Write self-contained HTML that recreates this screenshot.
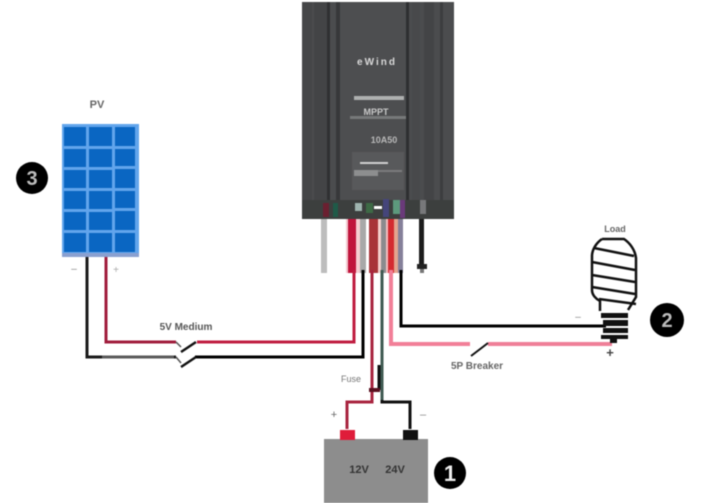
<!DOCTYPE html>
<html>
<head>
<meta charset="utf-8">
<style>
html,body{margin:0;padding:0;background:#fff;width:701px;height:503px;overflow:hidden}
svg{display:block;filter:blur(0.5px)}
text{font-family:"Liberation Sans",sans-serif}
</style>
</head>
<body>
<svg width="701" height="503" viewBox="0 0 701 503" xmlns="http://www.w3.org/2000/svg">
<rect width="701" height="503" fill="#fff"/>

<!-- Controller -->
<rect x="302" y="2" width="152" height="217" fill="#4b4c4e"/>
<rect x="302" y="2" width="10" height="217" fill="#454648"/>
<rect x="314" y="2" width="13" height="217" fill="#434446"/>
<rect x="327" y="2" width="3" height="217" fill="#2f3032"/>
<rect x="336" y="2" width="4" height="200" fill="#37383a"/>
<rect x="340" y="2" width="66" height="200" fill="#4d4e50"/>
<rect x="406" y="2" width="3" height="217" fill="#2e2f31"/>
<rect x="412" y="2" width="8" height="217" fill="#48494b"/>
<rect x="424" y="2" width="10" height="217" fill="#434446"/>
<rect x="440" y="2" width="3" height="217" fill="#3c3d3f"/>
<rect x="302" y="200" width="152" height="19" fill="#3c3f3e"/>
<rect x="352" y="152" width="52" height="38" fill="#58595b"/>
<text x="376" y="65" font-size="10" font-weight="bold" fill="#d8d8d8" text-anchor="middle" textLength="38">eWind</text>
<rect x="354" y="96" width="50" height="4" fill="#aeb0b0"/>
<text x="376" y="115" font-size="9" font-weight="bold" fill="#c8c8c8" text-anchor="middle">MPPT</text>
<rect x="350" y="116" width="56" height="3" fill="#77797a"/>
<text x="384" y="143" font-size="9" font-weight="bold" fill="#b8b8b8" text-anchor="middle">10A50</text>
<rect x="360" y="162" width="28" height="2" fill="#d0d0d0"/>
<rect x="354" y="170" width="24" height="6" fill="#8d8e8f"/>
<rect x="378" y="170" width="24" height="2" fill="#7b7c7d"/>
<!-- terminals -->
<rect x="323" y="203" width="6" height="14" fill="#6a2030"/>
<rect x="333" y="203" width="5" height="14" fill="#1f5a48"/>
<rect x="355" y="203" width="7" height="8" fill="#9fb5b0"/>
<rect x="366" y="203" width="7" height="10" fill="#3d6a45"/>
<rect x="374" y="206" width="8" height="3" fill="#fff"/>
<rect x="383" y="199" width="6" height="18" fill="#45457a"/>
<rect x="393" y="200" width="7" height="14" fill="#5d9a7d"/>
<rect x="400" y="200" width="5" height="18" fill="#6a3a7a"/>
<rect x="420" y="200" width="6" height="14" fill="#77787a"/>

<!-- Wires below controller -->
<rect x="321" y="219" width="6" height="54" fill="#bdbdbd"/>
<rect x="348" y="219" width="8" height="54" fill="#c0143c"/>
<rect x="346" y="219" width="2" height="54" fill="#f3c9d0"/>
<rect x="356" y="219" width="4" height="54" fill="#f6cdd2"/>
<rect x="360" y="219" width="6" height="54" fill="#a8a8a8"/>
<rect x="369" y="219" width="9" height="54" fill="#a83438"/>
<rect x="378" y="219" width="3" height="54" fill="#f4d0cc"/>
<rect x="381" y="219" width="5" height="54" fill="#8b8b8e"/>
<rect x="386" y="219" width="2" height="54" fill="#f2c0c0"/>
<rect x="388" y="219" width="6" height="54" fill="#d42a30"/>
<rect x="394" y="219" width="4" height="54" fill="#e4a48e"/>
<rect x="398" y="219" width="5" height="54" fill="#85809a"/>
<rect x="419" y="219" width="5" height="50" fill="#1c1c1c"/>
<rect x="417" y="264" width="10" height="5" fill="#222"/>
<rect x="420" y="269" width="4" height="4" fill="#777"/>

<!-- PV panel -->
<rect x="62" y="124" width="77" height="132" fill="#62a5ec"/>
<g fill="#0a66c2">
<rect x="64" y="127" width="22" height="19"/><rect x="89" y="127" width="23" height="19"/><rect x="115" y="127" width="20" height="19"/>
<rect x="64" y="149" width="22" height="18"/><rect x="89" y="149" width="23" height="18"/><rect x="115" y="149" width="20" height="17"/>
<rect x="64" y="170" width="22" height="18"/><rect x="89" y="170" width="23" height="18"/><rect x="115" y="169" width="20" height="19"/>
<rect x="64" y="191" width="22" height="18"/><rect x="89" y="191" width="23" height="18"/><rect x="115" y="191" width="20" height="17"/>
<rect x="64" y="212" width="22" height="18"/><rect x="89" y="212" width="23" height="18"/><rect x="115" y="211" width="20" height="19"/>
<rect x="64" y="233" width="22" height="19"/><rect x="89" y="233" width="23" height="19"/><rect x="115" y="233" width="20" height="19"/>
</g>
<rect x="62" y="253" width="77" height="4" fill="#8aa0d0"/>
<text x="97" y="108" font-size="11" font-weight="bold" fill="#666" text-anchor="middle">PV</text>
<text x="74" y="272" font-size="10" fill="#888" text-anchor="middle">–</text>
<text x="116" y="273" font-size="10" fill="#aaa" text-anchor="middle">+</text>

<!-- PV wires -->
<g fill="none" stroke-linejoin="miter">
<path d="M87 257V357H176" stroke="#1a1a1a" stroke-width="3"/>
<path d="M102 357H174" stroke="#5a5a5a" stroke-width="3"/>
<path d="M106 257V342H176" stroke="#a01c3c" stroke-width="3"/>
<path d="M197 342H354V270" stroke="#c01c40" stroke-width="3"/>
<path d="M195 357H363V270" stroke="#000" stroke-width="3"/>
<path d="M196 342L181 352M196 357L181 367" stroke="#111" stroke-width="2.5"/>
<path d="M176 342L181 347M176 357L181 363" stroke="#555" stroke-width="1.5"/>
</g>
<text x="186" y="330" font-size="10" font-weight="bold" fill="#555" text-anchor="middle">5V Medium</text>

<!-- Battery wires -->
<g fill="none">
<path d="M372 270V402H347V429" stroke="#a8243f" stroke-width="3"/>
<path d="M382 270V402H410V429" stroke="#111" stroke-width="3"/>
<path d="M382 270V400" stroke="#3f5a52" stroke-width="3"/>
<path d="M379 365V390" stroke="#111" stroke-width="3"/>
<path d="M369 390H380" stroke="#5a1020" stroke-width="4"/>
</g>
<text x="351" y="382" font-size="9" fill="#777" text-anchor="middle">Fuse</text>
<text x="334" y="418" font-size="11" fill="#666" text-anchor="middle">+</text>
<text x="423" y="418" font-size="11" fill="#888" text-anchor="middle">–</text>

<!-- Battery -->
<rect x="324" y="439" width="104" height="64" fill="#8d8d8d"/>
<rect x="340" y="430" width="15" height="10" fill="#df1c3a"/>
<rect x="403" y="430" width="15" height="10" fill="#111"/>
<text x="359" y="473" font-size="11" font-weight="bold" fill="#333" text-anchor="middle">12V</text>
<text x="395" y="473" font-size="11" font-weight="bold" fill="#333" text-anchor="middle">24V</text>

<!-- Load wires -->
<g fill="none">
<path d="M401 270V326H606" stroke="#000" stroke-width="3"/>
<path d="M391 270V344H470" stroke="#f27f98" stroke-width="4"/>
<path d="M488 344H612" stroke="#ef7f98" stroke-width="4"/>
<path d="M488 343L471 356" stroke="#111" stroke-width="2"/>
</g>
<text x="477" y="369" font-size="10" font-weight="bold" fill="#666" text-anchor="middle">5P Breaker</text>
<text x="610" y="357" font-size="13" font-weight="bold" fill="#444" text-anchor="middle">+</text>
<text x="578" y="320" font-size="10" fill="#888" text-anchor="middle">–</text>

<!-- Bulb -->
<text x="615" y="232" font-size="9" font-weight="bold" fill="#666" text-anchor="middle">Load</text>
<g fill="none" stroke="#111" stroke-width="2.5">
<path d="M602 239H624C630 243 635 250 636 258V297L628 310"/>
<path d="M602 239C596 243 592 250 592 256V290C592 295 596 299 600 301V311"/>
<path d="M594 248L634 256M592 262L635 270M592 275L635 282M592 287L635 294M599 299L636 304"/>
</g>
<g fill="#111">
<rect x="601" y="313" width="27" height="5"/>
<rect x="603" y="320" width="25" height="6"/>
<rect x="603" y="328" width="25" height="5"/>
<rect x="601" y="335" width="27" height="4"/>
<rect x="610" y="339" width="7" height="4"/>
</g>

<!-- Badges -->
<circle cx="32" cy="178" r="16" fill="#000"/>
<text x="32" y="185" font-size="20" font-weight="bold" fill="#bbb" text-anchor="middle">3</text>
<circle cx="667" cy="320" r="17" fill="#000"/>
<text x="667" y="327" font-size="20" font-weight="bold" fill="#bbb" text-anchor="middle">2</text>
<circle cx="450" cy="473" r="16" fill="#000"/>
<text x="450" y="481" font-size="22" font-weight="bold" fill="#eee" text-anchor="middle">1</text>
</svg>
</body>
</html>
